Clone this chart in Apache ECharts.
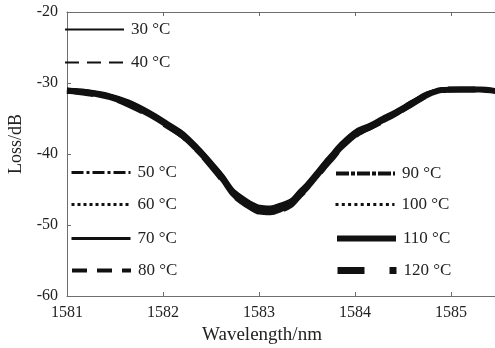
<!DOCTYPE html>
<html>
<head>
<meta charset="utf-8">
<script src="https://cdn.jsdelivr.net/npm/echarts@6/dist/echarts.min.js"></script>
<style>
  html, body { margin: 0; padding: 0; background: #fff; }
  #chart { width: 495px; height: 348px; }
</style>
</head>
<body>
<div id="chart"></div>
<script>
// wavelength samples (nm), shared by every temperature curve
const wavelength = [1581.00, 1581.20, 1581.45, 1581.65, 1581.87, 1582.05, 1582.21, 1582.35, 1582.46, 1582.63, 1582.73,
                    1582.82, 1582.91, 1583.01, 1583.12, 1583.22, 1583.33, 1583.42, 1583.50, 1583.58, 1583.67, 1583.76,
                    1583.85, 1584.02, 1584.16, 1584.28, 1584.40, 1584.58, 1584.75, 1584.90, 1585.10, 1585.30, 1585.50];

// loss (dB), one list per temperature
const loss30  = [-30.8, -31.0, -31.6, -32.5, -34.0, -35.5, -36.9, -38.7, -40.3, -43.0, -44.9, -45.9, -46.7, -47.3, -47.4, -47.0, -46.4, -45.1, -44.0, -42.7, -41.2, -39.8, -38.4, -36.5, -35.7, -34.8, -34.0, -32.6, -31.3, -30.8, -30.7, -30.7, -31.0];
const loss40  = [-30.8, -31.1, -31.7, -32.6, -34.1, -35.6, -37.0, -38.8, -40.4, -43.1, -45.0, -46.0, -46.8, -47.4, -47.5, -47.1, -46.5, -45.2, -44.1, -42.8, -41.3, -39.9, -38.5, -36.6, -35.8, -34.9, -34.1, -32.6, -31.4, -30.8, -30.7, -30.7, -31.0];
const loss50  = [-30.9, -31.1, -31.7, -32.7, -34.2, -35.7, -37.1, -38.9, -40.5, -43.2, -45.1, -46.1, -46.9, -47.5, -47.6, -47.2, -46.6, -45.3, -44.2, -42.9, -41.4, -40.0, -38.6, -36.7, -35.9, -35.0, -34.2, -32.7, -31.4, -30.9, -30.8, -30.8, -31.0];
const loss60  = [-30.9, -31.2, -31.8, -32.7, -34.2, -35.7, -37.1, -38.9, -40.5, -43.3, -45.2, -46.2, -47.0, -47.6, -47.7, -47.3, -46.7, -45.4, -44.3, -43.0, -41.5, -40.1, -38.7, -36.8, -35.9, -35.0, -34.2, -32.7, -31.4, -30.9, -30.8, -30.8, -31.1];
const loss70  = [-30.9, -31.2, -31.8, -32.8, -34.3, -35.8, -37.2, -39.0, -40.6, -43.4, -45.3, -46.3, -47.1, -47.7, -47.8, -47.4, -46.8, -45.5, -44.4, -43.1, -41.6, -40.2, -38.8, -36.9, -36.0, -35.1, -34.3, -32.8, -31.5, -30.9, -30.8, -30.8, -31.1];
const loss80  = [-31.0, -31.2, -31.9, -32.9, -34.4, -35.9, -37.3, -39.1, -40.7, -43.5, -45.4, -46.4, -47.2, -47.9, -48.0, -47.6, -46.9, -45.6, -44.5, -43.2, -41.7, -40.3, -38.9, -37.0, -36.0, -35.2, -34.3, -32.9, -31.6, -30.9, -30.8, -30.8, -31.1];
const loss90  = [-31.0, -31.3, -31.9, -32.9, -34.4, -35.9, -37.4, -39.2, -40.8, -43.6, -45.5, -46.5, -47.3, -48.0, -48.1, -47.7, -47.0, -45.7, -44.6, -43.3, -41.8, -40.4, -39.0, -37.0, -36.1, -35.2, -34.4, -32.9, -31.6, -31.0, -30.9, -30.9, -31.2];
const loss100 = [-31.0, -31.3, -32.0, -33.0, -34.5, -36.0, -37.4, -39.2, -40.8, -43.6, -45.6, -46.6, -47.4, -48.1, -48.2, -47.8, -47.1, -45.8, -44.7, -43.4, -41.9, -40.5, -39.1, -37.1, -36.1, -35.3, -34.4, -33.0, -31.7, -31.0, -30.9, -30.9, -31.2];
const loss110 = [-31.1, -31.3, -32.0, -33.0, -34.5, -36.0, -37.5, -39.3, -40.9, -43.7, -45.6, -46.6, -47.4, -48.1, -48.2, -47.8, -47.1, -45.8, -44.7, -43.4, -41.9, -40.5, -39.1, -37.1, -36.2, -35.3, -34.5, -33.0, -31.7, -31.0, -30.9, -30.9, -31.2];
const loss120 = [-31.1, -31.4, -32.0, -33.1, -34.6, -36.1, -37.5, -39.3, -41.0, -43.8, -45.7, -46.7, -47.5, -48.2, -48.3, -47.9, -47.2, -45.9, -44.8, -43.5, -42.0, -40.6, -39.2, -37.2, -36.2, -35.4, -34.5, -33.1, -31.7, -31.0, -30.9, -30.9, -31.2];

const names = ['30 °C', '40 °C', '50 °C', '60 °C', '70 °C', '80 °C', '90 °C', '100 °C', '110 °C', '120 °C'];
const losses = [loss30, loss40, loss50, loss60, loss70, loss80, loss90, loss100, loss110, loss120];

const xTicks = { min: 1581, max: 1585.5, interval: 1 };
const yTicks = { min: -60, max: -20, interval: 10 };

// line look of each temperature: w = width on the curve, lw = width in the legend
const styles = [
    { w: 2, lw: 2, type: 'solid' },
    { w: 2, lw: 2, type: [14, 8] },
    { w: 2, lw: 3, type: [12, 3, 3, 3] },
    { w: 2, lw: 3, type: [3, 3] },
    { w: 3, lw: 3, type: 'solid' },
    { w: 3, lw: 4, type: [15, 10] },
    { w: 3, lw: 4, type: [13, 2, 4, 2] },
    { w: 3, lw: 3, type: [3, 3.3] },
    { w: 6, lw: 6, type: 'solid' },
    { w: 6, lw: 7, type: [27, 25] },
];

// legend placement (icon left, line centre y)
const legendPos = [
    [64, 28], [64, 61], [70, 171], [70, 203], [70, 237], [70, 269],
    [334, 172], [334, 203], [334, 237], [334, 269],
];

const FONT = '"Liberation Serif", "Times New Roman", serif';
const AXIS_COLOR = '#6e6e6e';

const chart = echarts.init(document.getElementById('chart'), null, { renderer: 'canvas' });

const series = names.map((name, i) => ({
    name,
    type: 'line',
    data: wavelength.map((w, k) => [w, losses[i][k]]),
    smooth: 0.3,
    symbol: 'none',
    lineStyle: { color: '#111', width: styles[i].w, type: styles[i].type },
    itemStyle: { color: '#111' },
    emphasis: { disabled: true },
}));

const legends = names.map((name, i) => ({
    data: [name],
    left: legendPos[i][0],
    top: legendPos[i][1] - 7,
    padding: 0,
    itemWidth: 59,
    itemHeight: 14,
    selectedMode: false,
    itemStyle: { opacity: 0 },
    lineStyle: { width: styles[i].lw, type: styles[i].type, color: '#111', cap: 'butt' },
    textStyle: { fontFamily: FONT, fontSize: 17, color: '#222', padding: [0, 0, 0, 2] },
}));

const axisCommon = {
    type: 'value',
    axisLine: { show: true, onZero: false, lineStyle: { color: AXIS_COLOR, width: 1 } },
    axisTick: { show: true, inside: true, length: 4, lineStyle: { color: AXIS_COLOR } },
    splitLine: { show: false },
};

chart.setOption({
    backgroundColor: '#fff',
    animation: false,
    // the plot box runs a few pixels past the right edge of the picture
    grid: { left: 67, top: 12, bottom: 52, width: 432, outerBoundsMode: 'none' },
    legend: legends,
    xAxis: [
        {
            ...axisCommon,
            ...xTicks,
            position: 'bottom',
            name: 'Wavelength/nm',
            nameLocation: 'middle',
            nameGap: 29,
            nameTextStyle: { fontFamily: FONT, fontSize: 19, color: '#222', padding: [0, 42, 0, 0] },
            axisLabel: {
                fontFamily: FONT, fontSize: 16, color: '#222', margin: 9,
                formatter: v => (Number.isInteger(v) ? String(v) : ''),
            },
        },
        {
            ...axisCommon,
            ...xTicks,
            position: 'top',
            axisLabel: { show: false },
        },
    ],
    yAxis: [
        {
            ...axisCommon,
            ...yTicks,
            position: 'left',
            name: 'Loss/dB',
            nameLocation: 'middle',
            nameGap: 42,
            nameTextStyle: { fontFamily: FONT, fontSize: 18, color: '#222', padding: [0, 0, 0, 20] },
            axisLabel: { fontFamily: FONT, fontSize: 16, color: '#222', margin: 9 },
        },
        {
            ...axisCommon,
            ...yTicks,
            position: 'right',
            axisLabel: { show: false },
        },
    ],
    series,
});
</script>
</body>
</html>
